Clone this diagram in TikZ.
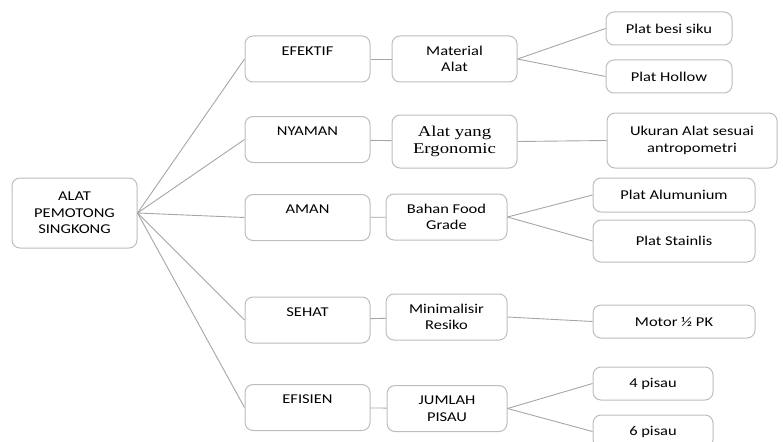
\documentclass[tikz,border=0pt]{standalone}
\usepackage{fontspec}
\setmainfont{Carlito}[FakeStretch=1.22]
\newfontfamily\ergofont{Liberation Serif}[FakeStretch=1.25]
\usetikzlibrary{positioning}

\definecolor{boxgray}{HTML}{BDBDBD}
\definecolor{linkgray}{HTML}{A6A6A6}

\begin{document}
\begin{tikzpicture}[
    x=1pt, y=-1pt,
    card/.style={draw=boxgray, line width=1pt, rectangle, rounded corners=8pt, fill=white, align=center, font=\fontsize{13.5}{16.5}\selectfont, inner sep=0pt, minimum width=125pt, minimum height=46pt},
    leaf/.style={card, minimum height=33pt},
    link/.style={draw=linkgray, line width=0.9pt}
]
    \useasboundingbox (0,0) rectangle (783,441);

    % root
    \node[card, minimum height=70pt] (root) at (74.5, 213) {ALAT\\PEMOTONG\\SINGKONG};

    % criteria column
    \node[card] (efektif) at (307.5, 59)    {EFEKTIF\\\mbox{}};
    \node[card] (nyaman)  at (307.5, 139.5) {NYAMAN\\\mbox{}};
    \node[card] (aman)    at (307.5, 217.5) {AMAN\\\mbox{}};
    \node[card] (sehat)   at (307.5, 320)   {SEHAT\\\mbox{}};
    \node[card] (efisien) at (307.5, 407.5) {EFISIEN\\\mbox{}};

    % requirement column
    \node[card] (material) at (454.5, 59) {Material\\Alat};
    \node[card, minimum height=53pt, font=\ergofont\fontsize{15}{17}\selectfont] (ergo) at (454.5, 141.5) {Alat yang\\Ergonomic};
    \node[card, minimum width=121pt] (bahan)   at (446.5, 217)   {Bahan Food\\Grade};
    \node[card, minimum width=121pt] (minimal) at (446.5, 317)   {Minimalisir\\Resiko};
    \node[card, minimum width=120pt] (jumlah)  at (447, 408.5)   {JUMLAH\\PISAU};

    % solution column
    \node[leaf, minimum width=126pt] (besi)   at (669, 28.5) {Plat besi siku};
    \node[leaf, minimum width=126pt] (hollow) at (669, 76.5) {Plat Hollow};
    \node[leaf, minimum width=170pt, minimum height=55pt] (ukuran) at (692, 140.5) {Ukuran Alat sesuai\\antropometri};
    \node[leaf, minimum width=162pt, minimum height=34pt] (alu)   at (674, 195) {Plat Alumunium};
    \node[leaf, minimum width=162pt, minimum height=42pt] (stain) at (674, 241) {Plat Stainlis};
    \node[leaf, minimum width=162pt] (motor) at (674, 321.5) {Motor ½ PK};
    \node[leaf, minimum width=120pt] (empat) at (653, 383.5) {4 pisau};
    \node[leaf, minimum width=120pt] (enam)  at (653, 431.5) {6 pisau};

    % connectors
    \foreach \c in {efektif, nyaman, aman, sehat, efisien}
        \draw[link] (root.east) -- (\c.west);
    \draw[link] (efektif) -- (material);
    \draw[link] (nyaman) -- (ergo);
    \draw[link] (aman) -- (bahan);
    \draw[link] (sehat) -- (minimal);
    \draw[link] (efisien) -- (jumlah);
    \draw[link] (material.east) -- (besi.west);
    \draw[link] (material.east) -- (hollow.west);
    \draw[link] (ergo.east) -- (ukuran.west);
    \draw[link] (bahan.east) -- (alu.west);
    \draw[link] (bahan.east) -- (stain.west);
    \draw[link] (minimal.east) -- (motor.west);
    \draw[link] (jumlah.east) -- (empat.west);
    \draw[link] (jumlah.east) -- (enam.west);

\end{tikzpicture}
\end{document}
